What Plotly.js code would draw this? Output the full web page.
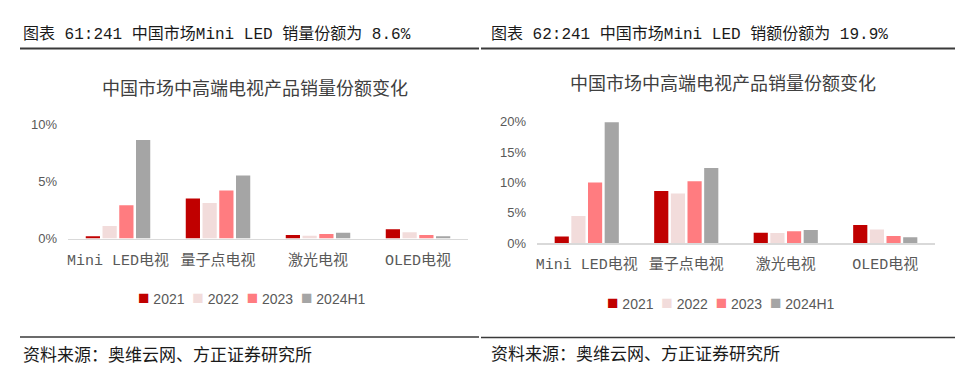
<!DOCTYPE html>
<html>
<head>
<meta charset="utf-8">
<script src="https://cdn.plot.ly/plotly-3.0.1.min.js"></script>
<style>html,body{margin:0;padding:0;background:#fff;}#chart{width:960px;height:382px;}</style>
</head>
<body>
<div id="chart"></div>
<script>
const categories = ['Mini LED电视', '量子点电视', '激光电视', 'OLED电视'];
const seriesNames = ['2021', '2022', '2023', '2024H1'];
const seriesColors = ['#C00000', '#F2DCDB', '#FF7C80', '#A5A5A5'];

// Left chart: sales volume share (%)
const volume2021 = [0.2, 3.5, 0.3, 0.8];
const volume2022 = [1.1, 3.1, 0.25, 0.55];
const volume2023 = [2.9, 4.2, 0.4, 0.3];
const volume2024H1 = [8.6, 5.5, 0.5, 0.2];

// Right chart: sales value share (%)
const value2021 = [1.1, 8.6, 1.75, 3.0];
const value2022 = [4.5, 8.2, 1.7, 2.25];
const value2023 = [10.0, 10.2, 2.0, 1.2];
const value2024H1 = [19.9, 12.4, 2.2, 1.0];

const leftTicks = [0, 5, 10];
const rightTicks = [0, 5, 10, 15, 20];

const headerLeft = '图表 61:241 中国市场Mini LED 销量份额为 8.6%';
const headerRight = '图表 62:241 中国市场Mini LED 销额份额为 19.9%';
const chartTitle = '中国市场中高端电视产品销量份额变化';
const sourceText = '资料来源：奥维云网、方正证券研究所';

const W = 960, H = 382;
const px = x => x / W;
const py = y => 1 - y / H;

const volumeSeries = [volume2021, volume2022, volume2023, volume2024H1];
const valueSeries = [value2021, value2022, value2023, value2024H1];

const traces = [];
volumeSeries.forEach((vals, i) => {
  traces.push({
    type: 'bar', x: categories, y: vals, name: seriesNames[i],
    marker: {color: seriesColors[i]}, xaxis: 'x', yaxis: 'y',
    showlegend: false, hoverinfo: 'skip'
  });
});
valueSeries.forEach((vals, i) => {
  traces.push({
    type: 'bar', x: categories, y: vals, name: seriesNames[i],
    marker: {color: seriesColors[i]}, xaxis: 'x2', yaxis: 'y2',
    showlegend: false, hoverinfo: 'skip'
  });
});

const latinCjk = '"Liberation Mono", "Noto Sans CJK SC", monospace';
const tickFont = {family: latinCjk, size: 15, color: '#595959'};
const numFont = {family: '"Liberation Sans", Arial, sans-serif', size: 13, color: '#595959'};

// legend built from the series names and colours
const legendText = seriesNames
  .map((n, i) => `<span style="color:${seriesColors[i]};font-size:19px">■</span> ${n}`)
  .join('  ');
const legendFont = {family: '"Liberation Sans", "DejaVu Sans", Arial, sans-serif', size: 14, color: '#595959'};

const layout = {
  width: W, height: H,
  margin: {l: 0, r: 0, t: 0, b: 0},
  paper_bgcolor: '#fff', plot_bgcolor: 'rgba(0,0,0,0)',
  barmode: 'group', bargap: 0.33, bargroupgap: 0.15,
  showlegend: false,
  xaxis: {
    domain: [px(68), px(468)], anchor: 'y', type: 'category',
    showline: true, linecolor: '#D9D9D9', linewidth: 1.5,
    ticks: '', showgrid: false, zeroline: false,
    tickfont: tickFont, ticklabelstandoff: 7, fixedrange: true
  },
  yaxis: {
    domain: [py(238.5), py(124)], anchor: 'x', range: [0, 10],
    tickvals: leftTicks, ticktext: leftTicks.map(v => v + '%'),
    showgrid: false, zeroline: false, showline: false, ticks: '',
    tickfont: numFont, ticklabelstandoff: 10, fixedrange: true
  },
  xaxis2: {
    domain: [px(537), px(935)], anchor: 'y2', type: 'category',
    showline: true, linecolor: '#D9D9D9', linewidth: 1.5,
    ticks: '', showgrid: false, zeroline: false,
    tickfont: tickFont, ticklabelstandoff: 6, fixedrange: true
  },
  yaxis2: {
    domain: [py(243.3), py(121.7)], anchor: 'x2', range: [0, 20],
    tickvals: rightTicks, ticktext: rightTicks.map(v => v + '%'),
    showgrid: false, zeroline: false, showline: false, ticks: '',
    tickfont: numFont, ticklabelstandoff: 10, fixedrange: true
  },
  annotations: [
    {text: headerLeft, xref: 'paper', yref: 'paper', x: px(21), y: py(34), xanchor: 'left', yanchor: 'middle', showarrow: false,
     font: {family: latinCjk, size: 16, color: '#1a1a1a'}},
    {text: headerRight, xref: 'paper', yref: 'paper', x: px(489), y: py(34), xanchor: 'left', yanchor: 'middle', showarrow: false,
     font: {family: latinCjk, size: 16, color: '#1a1a1a'}},
    {text: chartTitle, xref: 'paper', yref: 'paper', x: px(255), y: py(87), xanchor: 'center', yanchor: 'middle', showarrow: false,
     font: {family: '"Noto Sans CJK SC", sans-serif', size: 18, color: '#404040'}},
    {text: chartTitle, xref: 'paper', yref: 'paper', x: px(723), y: py(82), xanchor: 'center', yanchor: 'middle', showarrow: false,
     font: {family: '"Noto Sans CJK SC", sans-serif', size: 18, color: '#404040'}},
    {text: legendText, xref: 'paper', yref: 'paper', x: px(252), y: py(297), xanchor: 'center', yanchor: 'middle', showarrow: false,
     font: legendFont},
    {text: legendText, xref: 'paper', yref: 'paper', x: px(721), y: py(302), xanchor: 'center', yanchor: 'middle', showarrow: false,
     font: legendFont},
    {text: sourceText, xref: 'paper', yref: 'paper', x: px(21), y: py(353), xanchor: 'left', yanchor: 'middle', showarrow: false,
     font: {family: '"Noto Sans CJK SC", sans-serif', size: 17, color: '#1a1a1a'}},
    {text: sourceText, xref: 'paper', yref: 'paper', x: px(489), y: py(352), xanchor: 'left', yanchor: 'middle', showarrow: false,
     font: {family: '"Noto Sans CJK SC", sans-serif', size: 17, color: '#1a1a1a'}}
  ],
  shapes: [
    {type: 'line', xref: 'paper', yref: 'paper', x0: px(20), x1: px(479), y0: py(48.5), y1: py(48.5), line: {color: '#3a3a3a', width: 2}},
    {type: 'line', xref: 'paper', yref: 'paper', x0: px(481), x1: px(955), y0: py(48.5), y1: py(48.5), line: {color: '#3a3a3a', width: 2}},
    {type: 'line', xref: 'paper', yref: 'paper', x0: px(20), x1: px(479), y0: py(337), y1: py(337), line: {color: '#3a3a3a', width: 1.5}},
    {type: 'line', xref: 'paper', yref: 'paper', x0: px(481), x1: px(955), y0: py(337.5), y1: py(337.5), line: {color: '#3a3a3a', width: 1.5}}
  ]
};

Plotly.newPlot('chart', traces, layout, {displayModeBar: false, staticPlot: true});
</script>
</body>
</html>
